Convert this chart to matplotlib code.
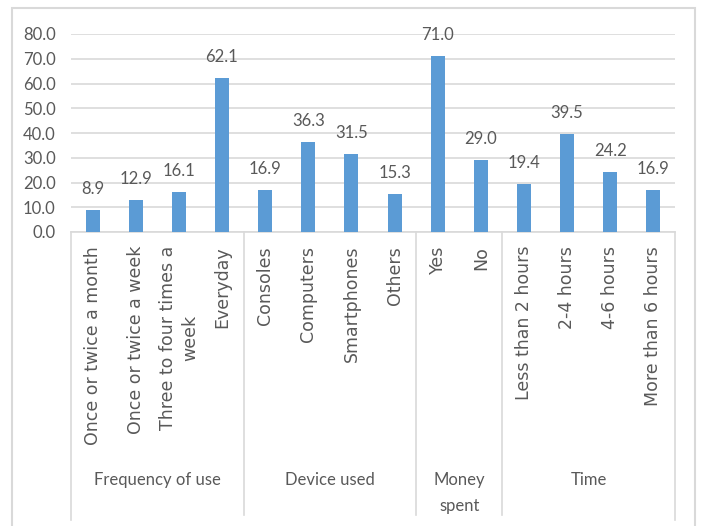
#!/usr/bin/env python3
"""
Grouped-category bar chart (Excel style) -> out.png
"""

import matplotlib
matplotlib.use('Agg')
import matplotlib.pyplot as plt
from matplotlib.patches import Rectangle

# ── data ──────────────────────────────────────────────
categories = [
    'Once or twice a month', 'Once or twice a week',
    'Three to four times a\nweek', 'Everyday',
    'Consoles', 'Computers', 'Smartphones', 'Others',
    'Yes', 'No',
    'Less than 2 hours', '2-4 hours', '4-6 hours', 'More than 6 hours',
]
values = [8.9, 12.9, 16.1, 62.1, 16.9, 36.3, 31.5, 15.3,
          71.0, 29.0, 19.4, 39.5, 24.2, 16.9]
groups = ['Frequency of use', 'Device used', 'Money\nspent', 'Time']
group_sizes = [4, 4, 2, 4]
y_ticks = [0, 10, 20, 30, 40, 50, 60, 70, 80]

# ── style ─────────────────────────────────────────────
BAR = '#5B9BD5'
TXT = '#595959'
GRID = '#D9D9D9'
plt.rcParams['font.family'] = ['Lato', 'DejaVu Sans']

W, H = 702, 526
fig = plt.figure(figsize=(W / 100, H / 100), dpi=100)
ax = fig.add_axes([71 / W, 1 - 232 / H, 604 / W, 198 / H])

x = list(range(len(values)))
ax.bar(x, values, width=0.325, color=BAR, zorder=3)

# data labels
for xi, v in zip(x, values):
    ax.annotate(f'{v:.1f}', (xi, v), xytext=(0, 15), textcoords='offset points',
                ha='center', va='center', fontsize=12, color=TXT)

ax.set_xlim(-0.5, len(values) - 0.5)
ax.set_ylim(0, 80)
ax.set_yticks(y_ticks)
ax.set_yticklabels([f'{t:.1f}' for t in y_ticks], fontsize=12, color=TXT)
ax.yaxis.grid(True, color=GRID, linewidth=1.2, zorder=0)
ax.tick_params(axis='y', length=0, pad=11)

# rotated category labels (wider face, like the original)
ax.set_xticks(x)
ax.set_xticklabels(categories, rotation=90, color=TXT, fontsize=12.5,
                   fontfamily='DejaVu Sans', multialignment='center',
                   linespacing=1.3)
ax.tick_params(axis='x', length=0, pad=10)

for side in ['left', 'right', 'top']:
    ax.spines[side].set_visible(False)
ax.spines['bottom'].set_color(GRID)
ax.spines['bottom'].set_linewidth(1.2)

# group separators and group labels
tr = ax.get_xaxis_transform()
edges = [-0.5]
for n in group_sizes:
    edges.append(edges[-1] + n)
for i, e in enumerate(edges):
    y_end = -1.455 if i in (0, len(edges) - 1) else -1.43
    ax.plot([e, e], [0, y_end], transform=tr, color=GRID, linewidth=1.2,
            clip_on=False)
for g, a, b in zip(groups, edges[:-1], edges[1:]):
    ax.text((a + b) / 2, -1.21, g, transform=tr, ha='center', va='top',
            fontsize=12, color=TXT, linespacing=1.8)

# outer chart border
fig.patches.append(Rectangle((12 / W, -0.1), (695 - 12) / W, 1.1 - 8 / H,
                             transform=fig.transFigure, fill=False,
                             edgecolor=GRID, linewidth=1.5))

fig.savefig('out.png', dpi=100)
plt.close(fig)
